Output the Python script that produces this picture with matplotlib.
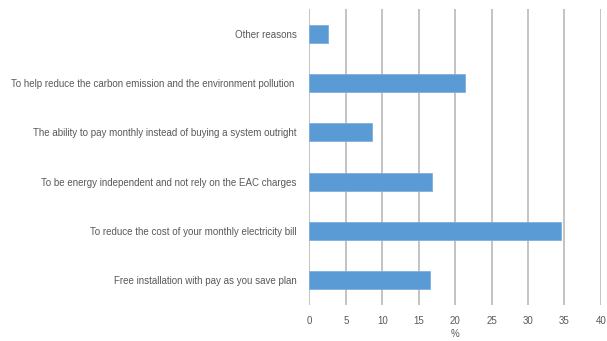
import matplotlib.pyplot as plt

reasons = [
    "Free installation with pay as you save plan",
    "To reduce the cost of your monthly electricity bill",
    "To be energy independent and not rely on the EAC charges",
    "The ability to pay monthly instead of buying a system outright",
    "To help reduce the carbon emission and the environment pollution ",
    "Other reasons",
]
percent = [16.5, 34.5, 16.8, 8.6, 21.3, 2.5]
xticks = [0, 5, 10, 15, 20, 25, 30, 35, 40]

plt.rcParams['font.family'] = ['Liberation Sans', 'DejaVu Sans']

fig = plt.figure(figsize=(6.07, 3.41), dpi=100)
ax = fig.add_axes([0.5096, 0.1056, 0.4804, 0.868])

ax.barh(range(len(reasons)), percent, height=0.36, color='#5b9bd5',
        edgecolor='#7fb0dd', linewidth=0.6, zorder=3)

ax.set_xlim(0, 40)
ax.set_ylim(-0.5, len(reasons) - 0.5)
ax.set_xticks(xticks)
ax.set_yticks(range(len(reasons)))
ax.set_yticklabels(reasons)
ax.grid(axis='x', color='#c3c3c3', linewidth=1.4, zorder=0)
ax.set_axisbelow(True)

for s in ax.spines.values():
    s.set_visible(False)
ax.tick_params(axis='y', length=0, labelsize=7.0, labelcolor='#595959', pad=9)
ax.tick_params(axis='x', length=0, labelsize=7.0, labelcolor='#595959', pad=8)
ax.set_xlabel('%', fontsize=7.0, color='#595959', labelpad=2)

fig.savefig('out.png', dpi=100)
